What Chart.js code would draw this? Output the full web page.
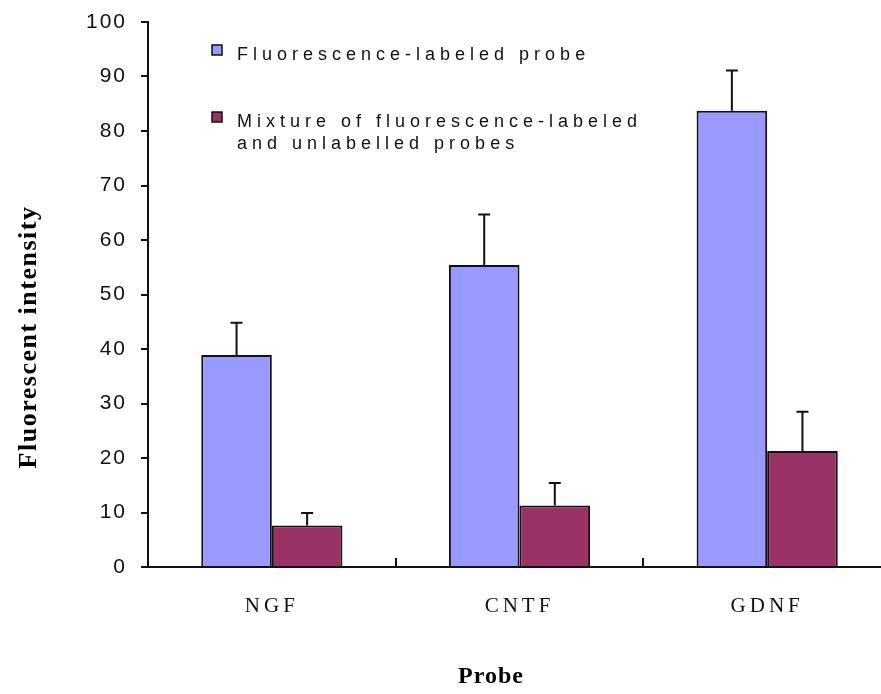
<!DOCTYPE html>
<html>
<head>
<meta charset="utf-8">
<script src="https://cdn.jsdelivr.net/npm/chart.js@4/dist/chart.umd.min.js"></script>
<style>
  html, body { margin: 0; padding: 0; background: #fff; overflow: hidden; }
  #c { display: block; }
</style>
</head>
<body>
<canvas id="c" width="900" height="694"></canvas>
<script>
// ---- data ----
const categories = ['NGF', 'CNTF', 'GDNF'];
const labeledValues = [38.9, 55.4, 83.7];
const labeledErrors = [5.9, 9.3, 7.4];
const mixtureValues = [7.6, 11.3, 21.3];
const mixtureErrors = [2.3, 4.1, 7.2];
const seriesLabels = [
  ['Fluorescence-labeled probe'],
  ['Mixture of fluorescence-labeled', 'and unlabelled probes']
];
const yTicks = [0, 10, 20, 30, 40, 50, 60, 70, 80, 90, 100];
const xTitle = 'Probe';
const yTitle = 'Fluorescent intensity';

const errorBars = {
  id: 'errorBars',
  afterDatasetsDraw(chart) {
    const ctx = chart.ctx;
    const y = chart.scales.y;
    ctx.save();
    ctx.strokeStyle = '#111';
    ctx.lineWidth = 2;
    chart.data.datasets.forEach((ds, di) => {
      const meta = chart.getDatasetMeta(di);
      meta.data.forEach((bar, i) => {
        const top = y.getPixelForValue(ds.data[i]);
        const hi = y.getPixelForValue(ds.data[i] + ds.errors[i]);
        ctx.beginPath();
        ctx.moveTo(bar.x, top);
        ctx.lineTo(bar.x, hi);
        ctx.moveTo(bar.x - 6, hi);
        ctx.lineTo(bar.x + 6, hi);
        ctx.stroke();
      });
    });
    ctx.restore();
  }
};

const extras = {
  id: 'extras',
  beforeDraw(chart) {
    // spacing used by the y tick labels (drawn before datasets)
    chart.ctx.letterSpacing = '2px';
  },
  afterDatasetsDraw(chart) {
    // spacing used by the x tick labels (drawn after datasets, z = 1)
    chart.ctx.letterSpacing = '4px';
  },
  afterDraw(chart) {
    const ctx = chart.ctx;
    const x = chart.scales.x;
    const area = chart.chartArea;
    ctx.save();
    // inward category-boundary ticks on x axis
    ctx.strokeStyle = '#111';
    ctx.lineWidth = 2;
    for (let i = 0; i < categories.length - 1; i++) {
      const px = Math.round((x.getPixelForValue(i) + x.getPixelForValue(i + 1)) / 2);
      ctx.beginPath();
      ctx.moveTo(px, area.bottom);
      ctx.lineTo(px, area.bottom - 9);
      ctx.stroke();
    }
    // legend
    const colors = chart.data.datasets.map(d => d.backgroundColor);
    const legendPos = [{ x: 212, y: 45 }, { x: 212, y: 112 }];
    ctx.letterSpacing = '5px';
    ctx.font = '18px "Liberation Sans", Arial, sans-serif';
    ctx.textBaseline = 'alphabetic';
    ctx.textAlign = 'left';
    seriesLabels.forEach((lines, i) => {
      const p = legendPos[i];
      ctx.fillStyle = colors[i];
      ctx.fillRect(p.x, p.y, 10, 10);
      ctx.strokeStyle = '#111';
      ctx.lineWidth = 1.5;
      ctx.strokeRect(p.x, p.y, 10, 10);
      ctx.fillStyle = '#111';
      lines.forEach((t, j) => {
        ctx.fillText(t, p.x + 25, p.y + 15 + j * 22);
      });
    });
    // axis titles
    ctx.fillStyle = '#000';
    ctx.letterSpacing = '1px';
    ctx.font = 'bold 24px "Liberation Serif", "Times New Roman", serif';
    ctx.textAlign = 'center';
    ctx.textBaseline = 'middle';
    ctx.fillText(xTitle, 491, 677);
    ctx.save();
    ctx.translate(29, 337);
    ctx.rotate(-Math.PI / 2);
    ctx.letterSpacing = '1.5px';
    ctx.font = 'bold 26px "Liberation Serif", "Times New Roman", serif';
    ctx.fillText(yTitle, 0, 0);
    ctx.restore();
    ctx.restore();
  }
};

new Chart(document.getElementById('c'), {
  type: 'bar',
  data: {
    labels: categories,
    datasets: [
      {
        label: seriesLabels[0].join(' '),
        data: labeledValues,
        errors: labeledErrors,
        backgroundColor: '#9999FF',
        borderColor: '#111',
        borderWidth: 2,
        borderSkipped: 'bottom'
      },
      {
        label: seriesLabels[1].join(' '),
        data: mixtureValues,
        errors: mixtureErrors,
        backgroundColor: '#993366',
        borderColor: '#111',
        borderWidth: 2,
        borderSkipped: 'bottom'
      }
    ]
  },
  options: {
    responsive: false,
    animation: false,
    devicePixelRatio: 1,
    layout: { padding: { top: 22, right: 9, left: 0, bottom: 0 } },
    datasets: { bar: { categoryPercentage: 0.57, barPercentage: 1.0 } },
    plugins: {
      legend: { display: false },
      tooltip: { enabled: false },
      title: { display: false }
    },
    scales: {
      x: {
        offset: true,
        grid: { display: false, drawTicks: false },
        border: { display: true, color: '#111', width: 2 },
        ticks: {
          z: 1,
          color: '#111',
          padding: 27,
          font: { family: '"Liberation Serif", "Times New Roman", serif', size: 21 }
        },
        afterFit(scale) {
          scale.height = 127;
          scale.paddingLeft = 0;
          scale.paddingRight = 0;
        }
      },
      y: {
        min: 0,
        max: 100,
        afterBuildTicks(scale) { scale.ticks = yTicks.map(v => ({ value: v })); },
        grid: { display: true, drawOnChartArea: false, drawTicks: true, tickLength: 7, color: '#111', lineWidth: 2 },
        border: { display: true, color: '#111', width: 2 },
        ticks: {
          color: '#111',
          padding: 14,
          font: { family: '"Liberation Sans", Arial, sans-serif', size: 21 }
        },
        afterFit(scale) {
          scale.width = 148;
          scale.paddingTop = 0;
          scale.paddingBottom = 0;
        }
      }
    }
  },
  plugins: [errorBars, extras]
});
</script>
</body>
</html>
